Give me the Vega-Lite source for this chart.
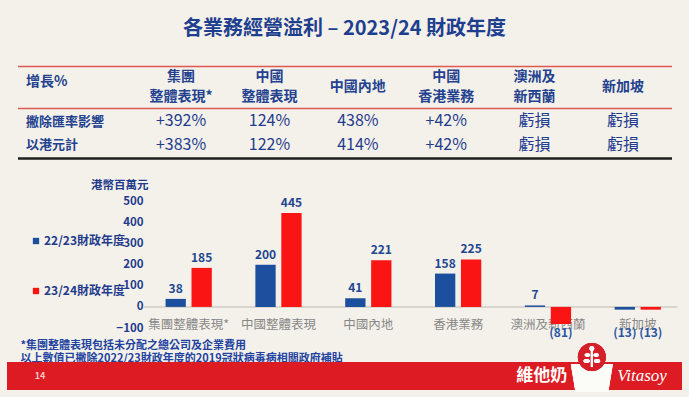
{
  "$schema": "https://vega.github.io/schema/vega-lite/v6.json",
  "background": "#f4f1ea",
  "padding": {"left": 7, "right": 7, "top": 19, "bottom": 7},
  "autosize": {"type": "pad"},
  "bounds": "flush",
  "center": true,
  "spacing": 0,
  "config": {
    "font": "Noto Sans CJK TC",
    "view": {"stroke": null},
    "axis": {"labelFont": "Noto Sans CJK TC", "titleFont": "Noto Sans CJK TC", "labelOverlap": false, "labelSeparation": 0},
    "axisY": {"labelOverlap": false},
    "legend": {"labelFont": "Noto Sans CJK TC"},
    "title": {"font": "Noto Sans CJK TC"}
  },
  "datasets": {
    "header": [
      {"row": "增長%", "col": "集團整體表現*", "header": "集團\n整體表現*"},
      {"row": "增長%", "col": "中國整體表現", "header": "中國\n整體表現"},
      {"row": "增長%", "col": "中國內地", "header": "中國內地"},
      {"row": "增長%", "col": "中國香港業務", "header": "中國\n香港業務"},
      {"row": "增長%", "col": "澳洲及新西蘭", "header": "澳洲及\n新西蘭"},
      {"row": "增長%", "col": "新加坡", "header": "新加坡"}
    ],
    "table": [
      {"row": "撇除匯率影響", "col": "集團整體表現*", "value": "+392%"},
      {"row": "撇除匯率影響", "col": "中國整體表現", "value": "124%"},
      {"row": "撇除匯率影響", "col": "中國內地", "value": "438%"},
      {"row": "撇除匯率影響", "col": "中國香港業務", "value": "+42%"},
      {"row": "撇除匯率影響", "col": "澳洲及新西蘭", "value": "虧損"},
      {"row": "撇除匯率影響", "col": "新加坡", "value": "虧損"},
      {"row": "以港元計", "col": "集團整體表現*", "value": "+383%"},
      {"row": "以港元計", "col": "中國整體表現", "value": "122%"},
      {"row": "以港元計", "col": "中國內地", "value": "414%"},
      {"row": "以港元計", "col": "中國香港業務", "value": "+42%"},
      {"row": "以港元計", "col": "澳洲及新西蘭", "value": "虧損"},
      {"row": "以港元計", "col": "新加坡", "value": "虧損"}
    ],
    "bars": [
      {"category": "集團整體表現*", "series": "22/23財政年度", "value": 38},
      {"category": "集團整體表現*", "series": "23/24財政年度", "value": 185},
      {"category": "中國整體表現", "series": "22/23財政年度", "value": 200},
      {"category": "中國整體表現", "series": "23/24財政年度", "value": 445},
      {"category": "中國內地", "series": "22/23財政年度", "value": 41},
      {"category": "中國內地", "series": "23/24財政年度", "value": 221},
      {"category": "香港業務", "series": "22/23財政年度", "value": 158},
      {"category": "香港業務", "series": "23/24財政年度", "value": 225},
      {"category": "澳洲及新西蘭", "series": "22/23財政年度", "value": 7},
      {"category": "澳洲及新西蘭", "series": "23/24財政年度", "value": -81},
      {"category": "新加坡", "series": "22/23財政年度", "value": -13},
      {"category": "新加坡", "series": "23/24財政年度", "value": -13}
    ],
    "notes": [
      {"note": "*集團整體表現包括未分配之總公司及企業費用"},
      {"note": "以上數值已撇除2022/23財政年度的2019冠狀病毒病相關政府補貼"}
    ],
    "footer": [
      {"item": "14"},
      {"item": "維他奶"},
      {"item": "Vitasoy"}
    ]
  },
  "vconcat": [
    {
      "width": 654,
      "height": 42,
      "title": {"text": "各業務經營溢利 – 2023/24 財政年度", "fontSize": 20, "fontWeight": "bold", "color": "#1e3f8f", "anchor": "middle", "offset": 27},
      "data": {"name": "header"},
      "encoding": {
        "x": {"field": "col", "type": "nominal",
              "scale": {"type": "point", "domain": ["gap0", "集團整體表現*", "中國整體表現", "中國內地", "中國香港業務", "澳洲及新西蘭", "新加坡"], "padding": 0.7, "align": 0.608},
              "axis": {"orient": "top", "labels": false, "ticks": false, "title": null, "domainColor": "#dc5a52", "domainWidth": 1.5}},
        "y": {"field": "row", "type": "nominal", "scale": {"type": "point", "padding": 0.5},
              "axis": {"title": null, "domain": false, "ticks": false, "tickSize": 0, "labelAlign": "left", "labelPadding": -8, "labelOffset": -6, "labelFontSize": 14, "labelFontWeight": "bold", "labelColor": "#23418f"}},
        "text": {"field": "header"}
      },
      "layer": [
        {
          "transform": [{"filter": "indexof(datum.header, '\\n') >= 0"}],
          "mark": {"type": "text", "lineBreak": "\n", "baseline": "middle", "dy": -10, "fontSize": 14, "fontWeight": "bold", "color": "#23418f", "lineHeight": 19.5}
        },
        {
          "transform": [{"filter": "indexof(datum.header, '\\n') < 0"}],
          "mark": {"type": "text", "baseline": "middle", "fontSize": 14, "fontWeight": "bold", "color": "#23418f"}
        }
      ]
    },
    {
      "width": 654,
      "height": 50,
      "data": {"name": "table"},
      "layer": [
        {
          "mark": {"type": "text", "fontSize": 16, "color": "#1f3c8e"},
          "encoding": {
            "x": {"field": "col", "type": "nominal",
                  "scale": {"type": "point", "domain": ["gap0", "集團整體表現*", "中國整體表現", "中國內地", "中國香港業務", "澳洲及新西蘭", "新加坡"], "padding": 0.7, "align": 0.608},
                  "axis": {"orient": "bottom", "labels": false, "ticks": false, "title": null, "domainColor": "#1e1e1e", "domainWidth": 2.5}},
            "y": {"field": "row", "type": "nominal", "sort": null, "scale": {"type": "point", "padding": 0.57},
                  "axis": {"title": null, "domain": false, "ticks": false, "tickSize": 0, "labelAlign": "left", "labelPadding": -8, "labelFontSize": 13, "labelFontWeight": "bold", "labelColor": "#23418f"}},
            "text": {"field": "value"}
          }
        },
        {
          "mark": {"type": "text", "opacity": 0},
          "encoding": {
            "x": {"field": "col", "type": "nominal",
                  "scale": {"type": "point", "domain": ["gap0", "集團整體表現*", "中國整體表現", "中國內地", "中國香港業務", "澳洲及新西蘭", "新加坡"], "padding": 0.7, "align": 0.608},
                  "axis": {"orient": "top", "labels": false, "ticks": false, "title": null, "domainColor": "#dc5a52", "domainWidth": 1.5}},
            "text": {"field": "value"}
          }
        }
      ],
      "resolve": {"scale": {"x": "independent"}}
    },
    {
      "width": 675,
      "height": 170,
      "data": {"name": "bars"},
      "encoding": {
        "x": {"field": "category", "type": "nominal",
              "scale": {"domain": ["集團整體表現*", "中國整體表現", "中國內地", "香港業務", "澳洲及新西蘭", "新加坡"], "paddingInner": 0.485, "paddingOuter": 1, "align": 0.8826},
              "axis": {"title": null, "domain": false, "ticks": false, "tickSize": 0, "labelAngle": 0, "labelBaseline": "middle", "labelPadding": -3.5, "labelFontSize": 12.5, "labelColor": "#888888"}},
        "y": {"field": "value", "type": "quantitative",
              "scale": {"domain": [-100, 706], "nice": false},
              "axis": {"values": [-100, 0, 100, 200, 300, 400, 500], "labelOverlap": false, "title": "港幣百萬元", "titleAngle": 0, "titleAlign": "right", "titleBaseline": "middle", "titleX": 3, "titleY": 27,
                       "domain": false, "ticks": false, "tickSize": 0, "grid": false, "labelPadding": 2, "offset": -138,
                       "labelFontSize": 11.5, "labelFontWeight": "bold", "labelColor": "#1f3b8c",
                       "titleFontSize": 11.5, "titleFontWeight": "bold", "titleColor": "#1f3b8c"}}
      },
      "layer": [
        {
          "mark": {"type": "rule", "color": "#d9d6ce", "strokeWidth": 1.2},
          "encoding": {
            "x": {"datum": "集團整體表現*", "type": "nominal", "bandPosition": -0.486},
            "x2": {"datum": "新加坡", "bandPosition": 1.35},
            "y": {"datum": 0, "type": "quantitative"}
          }
        },
        {
          "mark": {"type": "bar"},
          "encoding": {
            "xOffset": {"field": "series", "type": "nominal", "scale": {"paddingInner": 0.218, "paddingOuter": 0}},
            "color": {"field": "series", "type": "nominal",
                      "scale": {"domain": ["22/23財政年度", "23/24財政年度"], "range": ["#1c4f9d", "#fb1414"]},
                      "legend": {"orient": "none", "legendX": 23, "legendY": 169, "title": null, "symbolType": "square", "symbolSize": 40, "symbolStrokeWidth": 0, "rowPadding": 38, "labelOffset": 2, "labelFontSize": 12, "labelFontWeight": "bold", "labelColor": "#1f3b8c"}}
          }
        },
        {
          "transform": [{"filter": "datum.value >= 0"}],
          "mark": {"type": "text", "baseline": "bottom", "dy": -3, "fontSize": 12, "fontWeight": "bold", "color": "#1f4690"},
          "encoding": {
            "xOffset": {"field": "series", "type": "nominal", "scale": {"paddingInner": 0.218, "paddingOuter": 0}},
            "text": {"field": "value", "type": "quantitative", "format": "(d"}
          }
        },
        {
          "transform": [{"filter": "datum.value < 0"}],
          "mark": {"type": "text", "baseline": "middle", "dy": 5, "fontSize": 12, "fontWeight": "bold", "color": "#2b56a3"},
          "encoding": {
            "xOffset": {"field": "series", "type": "nominal", "scale": {"paddingInner": 0.218, "paddingOuter": 0}},
            "y": {"datum": -100, "type": "quantitative"},
            "text": {"field": "value", "type": "quantitative", "format": "(d"}
          }
        }
      ]
    },
    {
      "width": 675,
      "height": 34,
      "data": {"name": "notes"},
      "mark": {"type": "text", "opacity": 0},
      "encoding": {
        "y": {"field": "note", "type": "nominal", "sort": null, "scale": {"type": "point", "padding": 0.8, "align": 0.85},
              "axis": {"title": null, "domain": false, "ticks": false, "tickSize": 0, "labelAlign": "left", "labelPadding": -13, "labelLimit": 1000, "labelFontSize": 11, "labelFontWeight": "bold", "labelColor": "#2343a0"}},
        "text": {"field": "note"}
      }
    },
    {
      "width": 675,
      "height": 28,
      "view": {"fill": "#dc1c22", "stroke": null},
      "data": {"name": "footer"},
      "encoding": {
        "x": {"field": "item", "type": "nominal",
              "scale": {"type": "point", "domain": ["14", "gap1", "gap2", "gap3", "gap4", "gap5", "gap6", "gap7", "gap8", "gap9", "維他奶", "cup", "Vitasoy"], "padding": 0.727, "align": 0.452},
              "axis": null}
      },
      "layer": [
        {
          "transform": [{"filter": "datum.item == '14'"}],
          "mark": {"type": "text", "fontSize": 9, "fontWeight": "bold", "color": "#f6c4c4"},
          "encoding": {"text": {"field": "item"}}
        },
        {
          "mark": {"type": "point", "filled": true, "color": "#fbfbf8", "opacity": 1, "size": 1600, "shape": "M-1.05,-0.6L1.05,-0.6L0.82,0.8L-0.82,0.8Z"},
          "encoding": {"x": {"datum": "cup", "type": "nominal"}}
        },
        {
          "mark": {"type": "point", "filled": true, "color": "#d5202a", "opacity": 1, "size": 1600, "shape": "M-0.7,-0.95A0.7,0.7,0,1,0,0.7,-0.95A0.7,0.7,0,1,0,-0.7,-0.95Z"},
          "encoding": {"x": {"datum": "cup", "type": "nominal"}}
        },
        {
          "mark": {"type": "point", "filled": true, "color": "#ffffff", "opacity": 0.95, "size": 1600, "shape": "M-0.05,-0.45L0.05,-0.45L0.05,-1.3L-0.05,-1.3Z M-0.42,-0.75A0.16,0.1,0,1,0,-0.1,-0.75A0.16,0.1,0,1,0,-0.42,-0.75Z M0.1,-0.75A0.16,0.1,0,1,0,0.42,-0.75A0.16,0.1,0,1,0,0.1,-0.75Z M-0.36,-1.05A0.14,0.09,0,1,0,-0.08,-1.05A0.14,0.09,0,1,0,-0.36,-1.05Z M0.08,-1.05A0.14,0.09,0,1,0,0.36,-1.05A0.14,0.09,0,1,0,0.08,-1.05Z M-0.12,-1.38A0.12,0.12,0,1,0,0.12,-1.38A0.12,0.12,0,1,0,-0.12,-1.38Z"},
          "encoding": {"x": {"datum": "cup", "type": "nominal"}}
        },
        {
          "transform": [{"filter": "datum.item == '維他奶'"}],
          "mark": {"type": "text", "fontSize": 17, "fontWeight": "bold", "color": "#ffffff"},
          "encoding": {"text": {"field": "item"}}
        },
        {
          "transform": [{"filter": "datum.item == 'Vitasoy'"}],
          "mark": {"type": "text", "fontSize": 17, "fontStyle": "italic", "font": "Liberation Serif", "color": "#ffffff"},
          "encoding": {"text": {"field": "item"}}
        }
      ]
    }
  ]
}
